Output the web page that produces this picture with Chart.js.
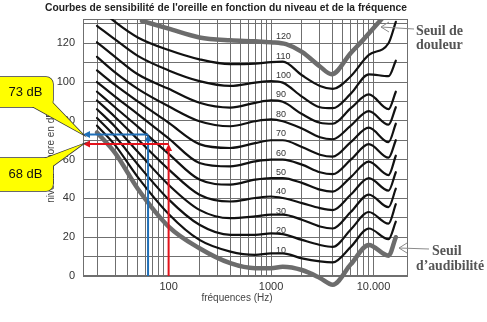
<!DOCTYPE html>
<html lang="fr">
<head>
<meta charset="UTF-8" />
<title>Courbes isosoniques</title>
<script src="https://cdn.jsdelivr.net/npm/chart.js"></script>
<style>
  html, body { margin: 0; padding: 0; background: #fff; }
  #wrap { width: 487px; height: 322px; }
</style>
</head>
<body>
<div id="wrap"><canvas id="chart" width="487" height="322"></canvas></div>
<script>
// fréquences communes des courbes (Hz)
const freqs = [20, 30, 50, 100, 200, 400, 700, 1000, 1300, 2000, 3000, 4000, 6000, 9000, 14000, 16500];

// niveaux (dB) des courbes isosoniques, en phones
const phon110 = [139, 131, 123, 116.5, 111.7, 109.2, 109.5, 110.3, 110.5, 103.5, 98, 96.5, 103, 114, 120, 131];
const phon100 = [129, 122, 113.5, 106, 100.5, 98, 99.7, 100.5, 99.7, 92.5, 87, 86.5, 94, 104, 103, 111];
const phon90  = [120.5, 113, 104, 96.5, 89.3, 86.8, 89.3, 90.5, 89.8, 83.5, 79, 78.5, 86.5, 93.6, 86, 95];
const phon80  = [113, 105, 96.5, 87.5, 79.8, 77.2, 79.8, 80.7, 79.8, 76, 71.5, 70.5, 77.5, 85, 78, 87];
const phon70  = [106, 98.5, 90, 79, 68, 66, 68.5, 70, 70, 66.5, 62.5, 61.5, 69, 76.5, 69, 78.5];
const phon60  = [100, 92.5, 83.5, 71, 58.3, 56.5, 59.1, 60, 60, 57.4, 53.5, 52.5, 60, 68, 61, 70];
const phon50  = [95, 87, 77, 63, 49.7, 47.1, 49.7, 50.5, 50.5, 48, 44.5, 43.5, 51, 59, 52, 62];
const phon40  = [90.5, 82, 70.5, 55, 41.9, 38.4, 40.2, 41, 40.2, 37.6, 35, 34, 42, 50.5, 44, 53.5];
const phon30  = [86, 77, 64, 47, 34.1, 29.8, 30.7, 31.6, 31.6, 29, 25.5, 24.5, 33, 42, 35.5, 45];
const phon20  = [81.5, 72, 57.5, 39.5, 26.4, 21.2, 21.2, 22, 21.6, 18.6, 16, 15, 24, 33, 27, 37];
const phon10  = [77.5, 67.5, 51, 32, 18.6, 12.6, 10.9, 11.7, 11.7, 9.1, 7.5, 7, 15, 24.5, 19, 28];
// seuil d'audibilité
const threshold = [74, 63.5, 45, 25.5, 14.3, 6.6, 4, 4, 4.8, 3.1, -1, -4.5, 6, 16, 10.5, 20];

// seuil de douleur (courbe 120)
const painFreqs  = [55, 100, 200, 400, 700, 1000, 1400, 2000, 3000, 3900, 6000, 8000, 12000];
const painLevels = [131.5, 127.5, 123, 121.5, 121, 120.5, 119.5, 115.5, 108, 104, 115, 122, 132.5];

const curveLabels = [120, 110, 100, 90, 80, 70, 60, 50, 40, 30, 20, 10];
const yTicks = [0, 10, 20, 30, 40, 50, 60, 70, 80, 90, 100, 110, 120, 130];
const xGrid = [20, 30, 40, 50, 60, 70, 80, 90,
  100, 200, 300, 400, 500, 600, 700, 800, 900,
  1000, 2000, 3000, 4000, 5000, 6000, 7000, 8000, 9000, 10000];
const xLabels = { 100: '100', 1000: '1000', 10000: '10.000' };

// lectures sur le graphe
const readFreqs  = [63, 100];
const readLevels = [73, 68];
const readTexts  = ['73 dB', '68 dB'];
const readColors = ['#1f6fb8', '#e3121b'];

const GRID = '#6f6f6f';
const BLACK = '#111';
const GREY = '#6c6c6c';

const pts = (fs, vs) => fs.map((f, i) => ({ x: f, y: vs[i] }));

const blackCurves = [phon110, phon100, phon90, phon80, phon70, phon60, phon50, phon40, phon30, phon20, phon10];

const datasets = [
  { data: pts(painFreqs, painLevels), borderColor: GREY, borderWidth: 4.5 },
  ...blackCurves.map(v => ({ data: pts(freqs, v), borderColor: BLACK, borderWidth: 2.2 })),
  { data: pts(freqs, threshold), borderColor: GREY, borderWidth: 4.5,
    clip: { left: 0, top: 0, right: 0, bottom: 16 } }
];

function arrowHead(ctx, x, y, dir) {
  const L = 7, W = 3.5;
  ctx.beginPath();
  if (dir === 'left') {
    ctx.moveTo(x, y); ctx.lineTo(x + L, y - W); ctx.lineTo(x + L, y + W);
  } else {
    ctx.moveTo(x, y); ctx.lineTo(x - W, y + L); ctx.lineTo(x + W, y + L);
  }
  ctx.closePath();
  ctx.fill();
}

function openArrow(ctx, x0, y0, x1, y1) {
  // trait de rappel terminé par une pointe ouverte en (x1, y1)
  ctx.beginPath();
  ctx.moveTo(x0, y0); ctx.lineTo(x1, y1);
  ctx.moveTo(x1 + 8, y1 - 5); ctx.lineTo(x1, y1); ctx.lineTo(x1 + 8, y1 + 5);
  ctx.stroke();
}

function roundRect(ctx, x, y, w, h, r) {
  ctx.beginPath();
  ctx.moveTo(x + r, y);
  ctx.arcTo(x + w, y, x + w, y + h, r);
  ctx.arcTo(x + w, y + h, x, y + h, r);
  ctx.arcTo(x, y + h, x, y, r);
  ctx.arcTo(x, y, x + w, y, r);
  ctx.closePath();
}

function callout(ctx, box, tail, tip, text) {
  const shapes = () => {
    roundRect(ctx, box[0], box[1], box[2], box[3], 7);
  };
  const tailPath = () => {
    ctx.beginPath();
    ctx.moveTo(tail[0], tail[1]); ctx.lineTo(tip[0], tip[1]); ctx.lineTo(tail[2], tail[3]);
    ctx.closePath();
  };
  ctx.strokeStyle = '#3a3a3a';
  ctx.lineWidth = 1.5;
  shapes(); ctx.stroke();
  tailPath(); ctx.stroke();
  ctx.fillStyle = '#ffff00';
  shapes(); ctx.fill();
  tailPath(); ctx.fill();
  ctx.fillStyle = '#111';
  ctx.font = '13px "Liberation Sans", Arial, sans-serif';
  ctx.textAlign = 'center';
  ctx.textBaseline = 'middle';
  ctx.fillText(text, box[0] + box[2] / 2 + 3, box[1] + box[3] / 2, 34);
}

const overlay = {
  id: 'overlay',
  beforeDatasetsDraw(chart) {
    const { ctx, chartArea: a } = chart;
    ctx.save();
    ctx.strokeStyle = GRID;
    ctx.lineWidth = 1;
    ctx.strokeRect(a.left + 0.5, a.top + 0.5, a.width - 1, a.height - 1);
    ctx.restore();
  },
  afterDatasetsDraw(chart) {
    const { ctx, chartArea: a, scales: { x, y } } = chart;
    ctx.save();

    // niveaux en phones sur chaque courbe
    ctx.font = '9px "Liberation Sans", Arial, sans-serif';
    ctx.fillStyle = '#333';
    ctx.textAlign = 'left';
    ctx.textBaseline = 'middle';
    curveLabels.forEach(l => {
      ctx.fillText(String(l), x.getPixelForValue(1000) + 5, y.getPixelForValue(l) - 6.5);
    });

    // titres
    ctx.fillStyle = '#222';
    ctx.textAlign = 'center';
    ctx.font = 'bold 11px "Liberation Sans", Arial, sans-serif';
    ctx.fillText("Courbes de sensibilité de l'oreille en fonction du niveau et de la fréquence", 226, 8, 362);
    ctx.fillStyle = '#444';
    ctx.font = '10px "Liberation Sans", Arial, sans-serif';
    ctx.fillText('fréquences (Hz)', 237, 298, 72);
    ctx.save();
    ctx.translate(51, 157);
    ctx.rotate(-Math.PI / 2);
    ctx.fillText('niveau sonore en dB', 0, 0, 100);
    ctx.restore();

    // lectures de niveau
    const y0 = y.getPixelForValue(0);
    readFreqs.forEach((f, i) => {
      const px = x.getPixelForValue(f);
      const py = y.getPixelForValue(readLevels[i]);
      ctx.strokeStyle = ctx.fillStyle = readColors[i];
      ctx.lineWidth = 2;
      ctx.beginPath();
      ctx.moveTo(px, y0); ctx.lineTo(px, py + 5);
      ctx.moveTo(px, py); ctx.lineTo(a.left + 5, py);
      ctx.stroke();
      arrowHead(ctx, px, py, 'up');
      arrowHead(ctx, a.left, py, 'left');
    });

    // bulles
    callout(ctx, [-8, 77, 61, 30], [28, 104, 49, 99], [a.left, y.getPixelForValue(readLevels[0])], readTexts[0]);
    callout(ctx, [-8, 158, 61, 33], [38, 161, 50, 168], [a.left, y.getPixelForValue(readLevels[1])], readTexts[1]);

    // seuils
    ctx.fillStyle = '#555';
    ctx.textAlign = 'left';
    ctx.textBaseline = 'alphabetic';
    ctx.font = 'bold 14px "Liberation Serif", "Times New Roman", serif';
    ctx.fillText('Seuil de', 416, 35);
    ctx.fillText('douleur', 416, 49);
    ctx.fillText('Seuil', 432, 255);
    ctx.fillText('d\u2019audibilité', 416, 270, 68);
    ctx.strokeStyle = '#8a8a8a';
    ctx.lineWidth = 1;
    openArrow(ctx, 414, 29, 381, 27);
    openArrow(ctx, 429, 249, 399, 248);

    ctx.restore();
  }
};

new Chart(document.getElementById('chart'), {
  type: 'line',
  data: { datasets },
  plugins: [overlay],
  options: {
    responsive: false,
    animation: false,
    devicePixelRatio: 1,
    layout: { padding: { left: 0, top: 19, right: 79, bottom: 0 } },
    elements: {
      point: { radius: 0 },
      line: { fill: false, cubicInterpolationMode: 'monotone', borderCapStyle: 'round' }
    },
    plugins: { legend: { display: false }, title: { display: false }, tooltip: { enabled: false } },
    scales: {
      x: {
        type: 'logarithmic',
        min: 14.6,
        max: 21700,
        afterBuildTicks: s => { s.ticks = xGrid.map(v => ({ value: v })); },
        afterFit: s => { s.height = 46; },
        grid: { color: GRID, lineWidth: 1, drawTicks: false },
        border: { display: false },
        ticks: {
          padding: 4, autoSkip: false, maxRotation: 0, color: '#333',
          font: { size: 11, family: '"Liberation Sans", Arial, sans-serif' },
          callback: v => xLabels[v] || ''
        }
      },
      y: {
        type: 'linear',
        min: 0,
        max: 132.5,
        afterBuildTicks: s => { s.ticks = yTicks.map(v => ({ value: v })); },
        afterFit: s => { s.width = 83; },
        grid: { color: GRID, lineWidth: 1, drawTicks: false },
        border: { display: false },
        ticks: {
          padding: 8, color: '#333',
          font: { size: 11, family: '"Liberation Sans", Arial, sans-serif' },
          callback: v => (v % 20 === 0 ? v : '')
        }
      }
    }
  }
});
</script>
</body>
</html>
